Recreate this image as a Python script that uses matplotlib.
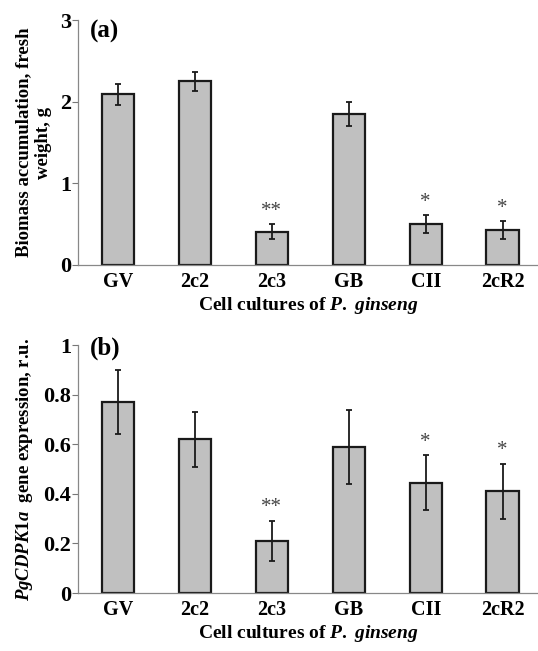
import numpy as np
import matplotlib.pyplot as plt

plt.rcParams['font.family'] = 'Liberation Serif'
plt.rcParams['font.weight'] = 'bold'
plt.rcParams['axes.labelweight'] = 'bold'
plt.rcParams['mathtext.fontset'] = 'custom'
plt.rcParams['mathtext.it'] = 'Liberation Serif:italic:bold'
plt.rcParams['mathtext.rm'] = 'Liberation Serif:bold'

cultures = ['GV', '2c2', '2c3', 'GB', 'CII', '2cR2']

biomass = [2.09, 2.25, 0.41, 1.85, 0.50, 0.43]
biomass_err = [0.13, 0.115, 0.09, 0.15, 0.11, 0.11]
biomass_sig = ['', '', '**', '', '*', '*']

expression = [0.77, 0.62, 0.21, 0.59, 0.445, 0.41]
expression_err = [0.13, 0.11, 0.08, 0.15, 0.11, 0.11]
expression_sig = ['', '', '**', '', '*', '*']

fig = plt.figure(figsize=(5.38, 6.51), dpi=100)
ax1 = fig.add_axes([0.145, 0.593, 0.855, 0.376])
ax2 = fig.add_axes([0.145, 0.089, 0.855, 0.381])


def draw_panel(ax, vals, errs, sig, ymax, ticks, ticklabels, tag, tag_y, ylabel, star_off):
    x = np.arange(len(cultures))
    ax.bar(x, vals, width=0.42, color='#c0c0c0', edgecolor='#1a1a1a', linewidth=1.6, zorder=2)
    ax.errorbar(x, vals, yerr=errs, fmt='none', ecolor='#1a1a1a', elinewidth=1.3,
                capsize=2, capthick=1.3, zorder=3)
    for xi, v, e, s in zip(x, vals, errs, sig):
        if s:
            ax.text(xi, v + e + star_off, s, ha='center', va='bottom', fontsize=15,
                    color='#444444', fontweight='normal')
    ax.set_xlim(-0.52, 5.46)
    ax.set_ylim(0, ymax)
    ax.set_yticks(ticks)
    ax.set_yticklabels(ticklabels, fontsize=16)
    ax.set_xticks(x)
    ax.set_xticklabels(cultures, fontsize=14.5)
    ax.tick_params(axis='x', length=0, pad=5)
    ax.tick_params(axis='y', length=4, width=0.8, color='#777777', pad=1)
    for side in ['top', 'right']:
        ax.spines[side].set_visible(False)
    for side in ['left', 'bottom']:
        ax.spines[side].set_color('#888888')
        ax.spines[side].set_linewidth(0.9)
    ax.set_xlabel('Cell cultures of $P.$ $ginseng$', fontsize=14, labelpad=2)
    ax.set_ylabel(ylabel, fontsize=13.5, labelpad=6)
    ax.text(0.025, tag_y, tag, transform=ax.transAxes, ha='left', va='center', fontsize=18)


draw_panel(ax1, biomass, biomass_err, biomass_sig, 3, [0, 1, 2, 3], ['0', '1', '2', '3'],
           '(a)', 0.955, 'Biomass accumulation, fresh\nweight, g', 0.04)
draw_panel(ax2, expression, expression_err, expression_sig, 1, [0, 0.2, 0.4, 0.6, 0.8, 1],
           ['0', '0.2', '0.4', '0.6', '0.8', '1'], '(b)', 0.985,
           '$PgCDPK1a$  gene expression, r.u.', 0.015)

fig.savefig('out.png', dpi=100)
